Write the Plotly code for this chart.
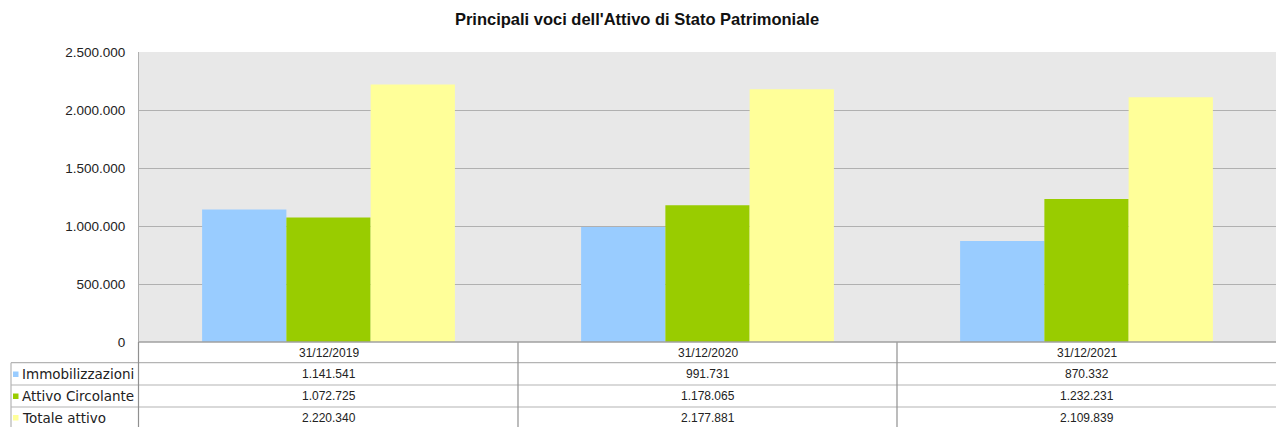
import plotly.graph_objects as go

categories = ["31/12/2019", "31/12/2020", "31/12/2021"]
series_names = ["Immobilizzazioni", "Attivo Circolante", "Totale attivo"]
immobilizzazioni = [1141541, 991731, 870332]
attivo_circolante = [1072725, 1178065, 1232231]
totale_attivo = [2220340, 2177881, 2109839]
colors = ["#99ccff", "#99cc00", "#ffff99"]
y_ticks = [0, 500000, 1000000, 1500000, 2000000, 2500000]

series_values = [immobilizzazioni, attivo_circolante, totale_attivo]

W, H = 1277, 427
ML, MR, MT, MB = 139, 1, 52, 85
PW = W - ML - MR
PH = H - MT - MB


def px_x(px):
    return (px - ML) / PW


def px_y(py):
    return (H - MB - py) / PH


def fmt(v):
    return f"{v:,}".replace(",", ".")


fig = go.Figure()
for name, vals, col in zip(series_names, series_values, colors):
    fig.add_trace(go.Bar(
        x=categories, y=vals, name=name,
        marker=dict(color=col, line=dict(width=0)),
        showlegend=False, hoverinfo="x+y+name",
    ))

shapes = []
annotations = []
line_col = "#b4b4b4"
# horizontal table lines
for py in [362.7, 385, 407]:
    shapes.append(dict(type="line", xref="paper", yref="paper",
                       x0=px_x(11), x1=1, y0=px_y(py), y1=px_y(py),
                       line=dict(color=line_col, width=1.2)))
# vertical lines
shapes.append(dict(type="line", xref="paper", yref="paper",
                   x0=px_x(11), x1=px_x(11), y0=px_y(362.7), y1=px_y(440),
                   line=dict(color=line_col, width=1.2)))
shapes.append(dict(type="line", xref="paper", yref="paper",
                   x0=px_x(138.5), x1=px_x(138.5), y0=px_y(342), y1=px_y(440),
                   line=dict(color="#909090", width=1.2)))
for xb in [0.5, 1.5]:
    shapes.append(dict(type="line", xref="x", yref="paper",
                       x0=xb, x1=xb, y0=px_y(342), y1=px_y(440),
                       line=dict(color="#909090", width=1.2)))

font_tbl = dict(family="Liberation Sans, Arial, sans-serif", size=12, color="#222222")
# header row
for c in categories:
    annotations.append(dict(xref="x", yref="paper", x=c, y=px_y(352.5),
                            text=c, showarrow=False, font=font_tbl,
                            xanchor="center", yanchor="middle"))
row_centers = [374, 396, 417.5]
for name, vals, col, yc in zip(series_names, series_values, colors, row_centers):
    shapes.append(dict(type="rect", xref="paper", yref="paper",
                       x0=px_x(13), x1=px_x(18.5), y0=px_y(yc - 2.5), y1=px_y(yc + 3),
                       fillcolor=col, line=dict(width=0)))
    annotations.append(dict(xref="paper", yref="paper", x=px_x(20), y=px_y(yc),
                            text=name, showarrow=False,
                            font=dict(family="DejaVu Sans, sans-serif", size=13.5, color="#222222"),
                            xanchor="left", yanchor="middle"))
    for c, v in zip(categories, vals):
        annotations.append(dict(xref="x", yref="paper", x=c, y=px_y(yc),
                                text=fmt(v), showarrow=False, font=font_tbl,
                                xanchor="center", yanchor="middle"))

fig.update_layout(
    width=W, height=H,
    margin=dict(l=ML, r=MR, t=MT, b=MB),
    paper_bgcolor="white",
    plot_bgcolor="#e8e8e8",
    separators=",.",
    barmode="group",
    bargap=0.333,
    bargroupgap=0,
    title=dict(text="<b>Principali voci dell'Attivo di Stato Patrimoniale</b>",
               x=(451 + 823) / 2 / W, xanchor="center", xref="container",
               y=1 - 19 / H, yanchor="middle", yref="container",
               font=dict(family="Liberation Sans, Arial, sans-serif", size=16.5, color="#111111")),
    xaxis=dict(type="category", range=[-0.5, 2.5], showticklabels=False,
               showgrid=False, zeroline=False, showline=False, ticks=""),
    yaxis=dict(range=[0, 2500000], tickvals=y_ticks, tickformat=",d",
               showgrid=True, gridcolor="#b0b0b0", gridwidth=1.2,
               zeroline=False, showline=True, linecolor="#b0b0b0", linewidth=1.2,
               ticks="", ticklabelstandoff=10,
               tickfont=dict(family="Liberation Sans, Arial, sans-serif", size=13.5, color="#222222")),
    shapes=shapes,
    annotations=annotations,
)
fig.add_shape(type="line", xref="paper", yref="paper", x0=0, x1=1, y0=0, y1=0,
              line=dict(color="#a0a0a0", width=1.5))

fig.write_html("out.html", config={"displayModeBar": False})

with open("out.html", "r", encoding="utf-8") as f:
    html = f.read()
html = html.replace("<head>", "<head><style>html,body{margin:0;padding:0;overflow:hidden;}</style>", 1)
with open("out.html", "w", encoding="utf-8") as f:
    f.write(html)
